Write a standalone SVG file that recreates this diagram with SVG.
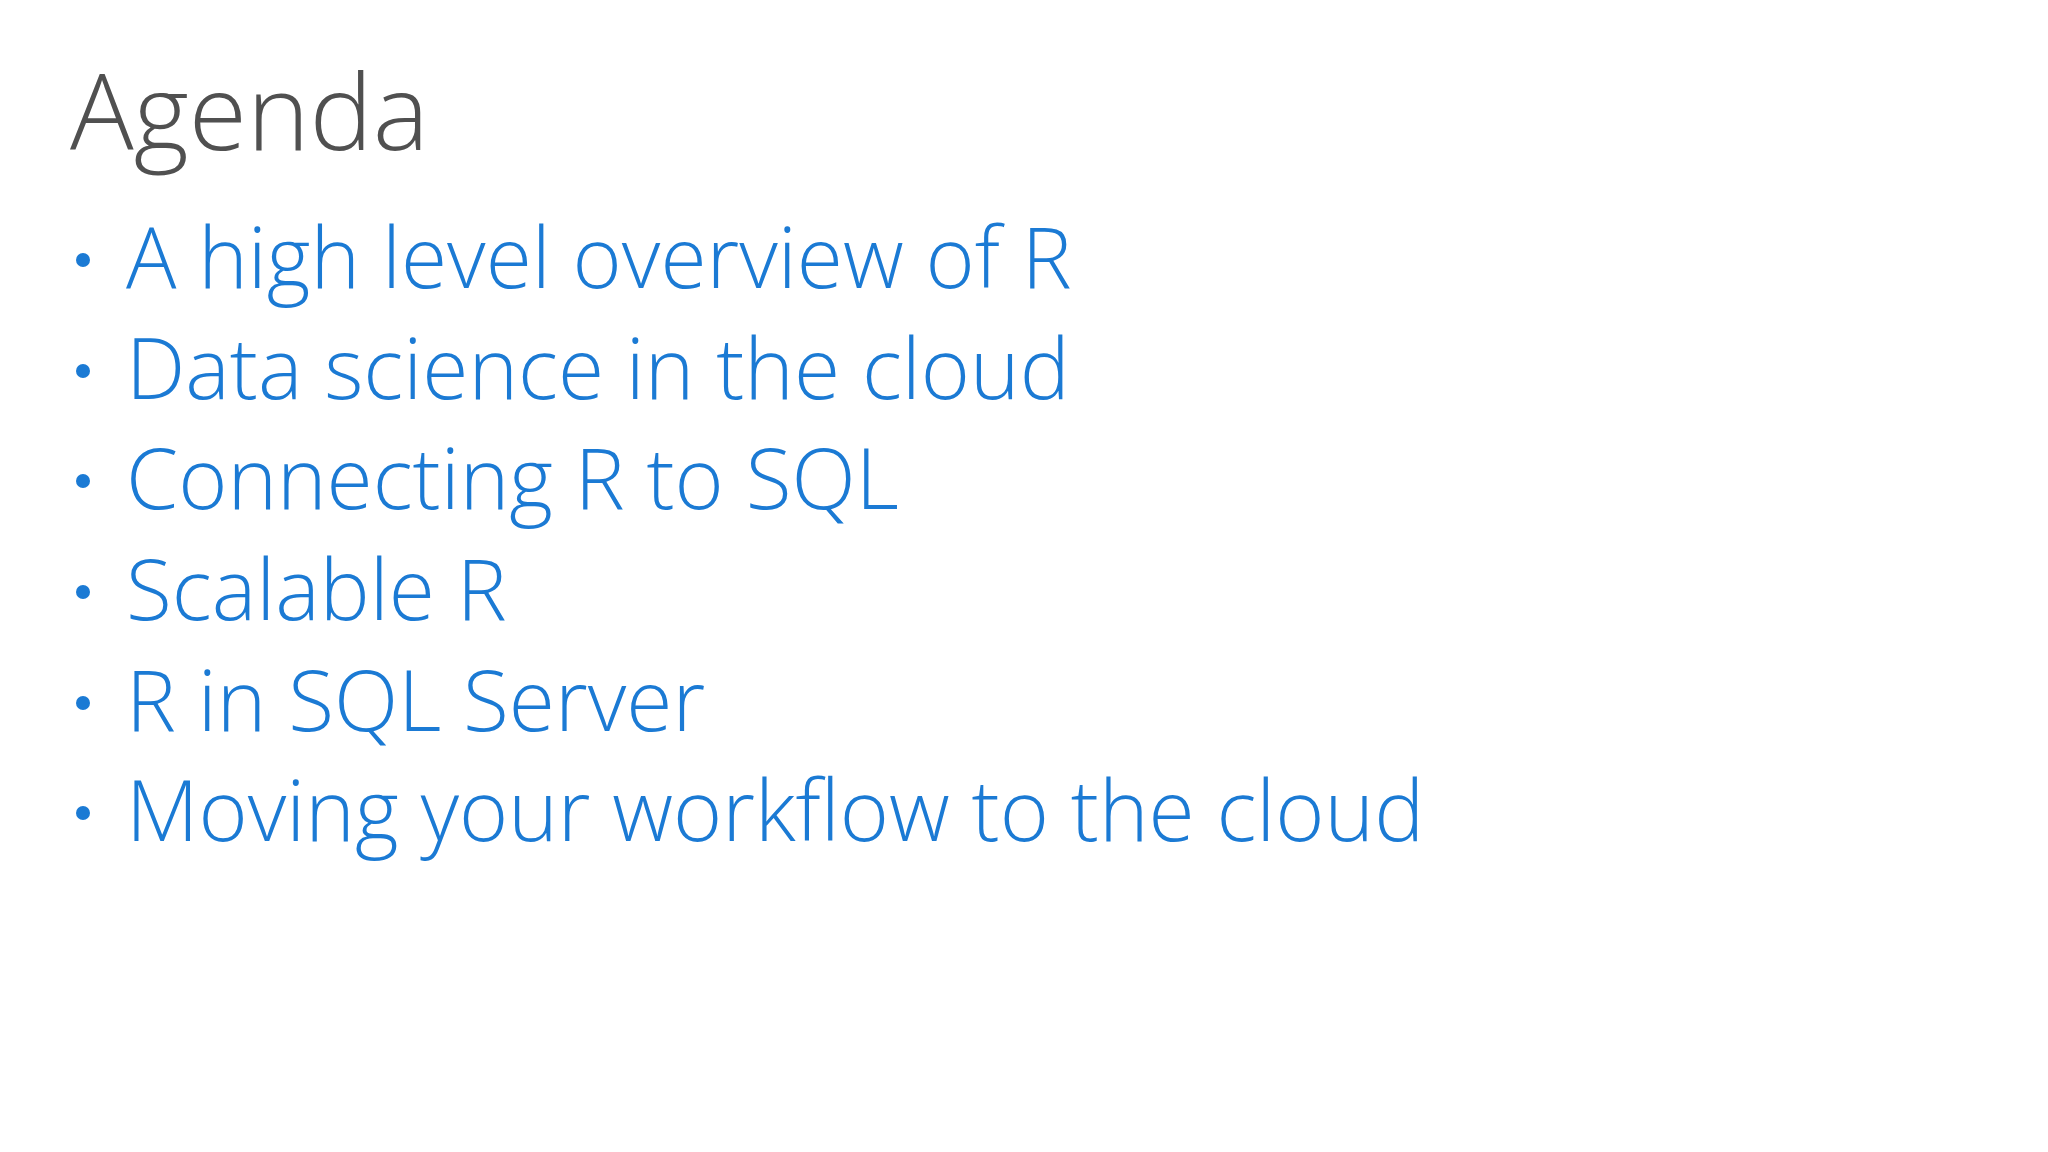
<svg xmlns="http://www.w3.org/2000/svg" width="2048" height="1152" viewBox="0 0 2048 1152">
<style>
.t{font-family:"Open Sans","Noto Sans","Liberation Sans",sans-serif;font-weight:300}
.title{font-size:106px;fill:#505050}
.b{font-size:84px;fill:#1b7ad4}
.d{fill:#1b7ad4}
</style>
<rect width="2048" height="1152" fill="#ffffff"/>
<g id="title"><text class="t title" x="70" y="150">Agenda</text></g>
<g id="bullets">
<g id="b1"><circle class="d" cx="83" cy="260" r="7"/><text class="t b" x="126" y="288">A high level overview of R</text></g>
<g id="b2"><circle class="d" cx="83" cy="371" r="7"/><text class="t b" x="126" y="399">Data science in the cloud</text></g>
<g id="b3"><circle class="d" cx="83" cy="481" r="7"/><text class="t b" x="126" y="509">Connecting R to SQL</text></g>
<g id="b4"><circle class="d" cx="83" cy="592" r="7"/><text class="t b" x="126" y="620">Scalable R</text></g>
<g id="b5"><circle class="d" cx="83" cy="703" r="7"/><text class="t b" x="126" y="731">R in SQL Server</text></g>
<g id="b6"><circle class="d" cx="83" cy="813" r="7"/><text class="t b" x="126" y="841">Moving your workflow to the cloud</text></g>
</g>
</svg>
